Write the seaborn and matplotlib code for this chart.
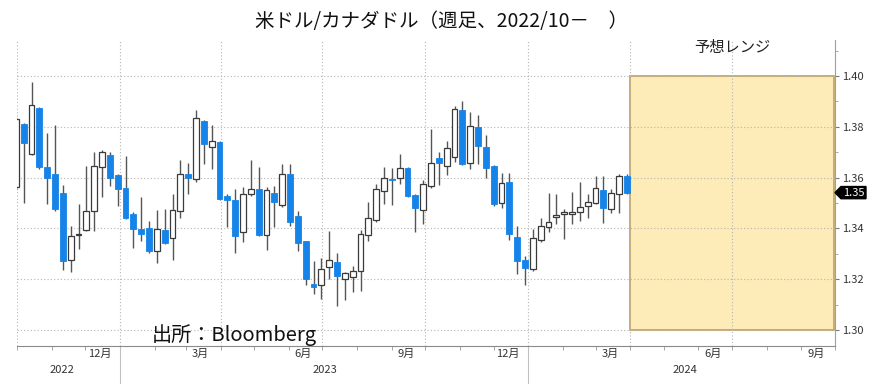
import numpy as np
import pandas as pd
import matplotlib
matplotlib.use("Agg")
import matplotlib.pyplot as plt
import matplotlib.dates as mdates
from matplotlib.ticker import FixedLocator, MultipleLocator
from matplotlib.patches import Rectangle, Polygon
from matplotlib.transforms import blended_transform_factory
import seaborn as sns

# ---------------- data ----------------
week_end = pd.date_range("2022-09-30", periods=79, freq="W-FRI")

opens = [1.3565, 1.3812, 1.3692, 1.3874, 1.3642, 1.3613, 1.3541, 1.3277, 1.3374, 1.3393, 1.3469, 1.3642, 1.3689, 1.3609,
         1.3561, 1.3456, 1.3397, 1.3400, 1.3312, 1.3393, 1.3361, 1.3469, 1.3613, 1.3593, 1.3822, 1.3722, 1.3741,
         1.3528, 1.3511, 1.3384, 1.3535, 1.3554, 1.3375, 1.3541, 1.3493, 1.3613, 1.3447, 1.3349, 1.3182, 1.3179,
         1.3250, 1.3267, 1.3201, 1.3210, 1.3234, 1.3375, 1.3434, 1.3548, 1.3596, 1.3600, 1.3639, 1.3531, 1.3472,
         1.3567, 1.3676, 1.3646, 1.3681, 1.3868, 1.3659, 1.3800, 1.3720, 1.3646, 1.3502, 1.3584, 1.3367, 1.3277,
         1.3240, 1.3354, 1.3404, 1.3446, 1.3458, 1.3457, 1.3463, 1.3489, 1.3502, 1.3552, 1.3476, 1.3535, 1.3607]
highs = [1.3838, 1.3815, 1.3976, 1.3880, 1.3776, 1.3809, 1.3571, 1.3408, 1.3495, 1.3646, 1.3702, 1.3707, 1.3702, 1.3615,
         1.3685, 1.3463, 1.3522, 1.3430, 1.3472, 1.3476, 1.3537, 1.3668, 1.3659, 1.3868, 1.3825, 1.3807, 1.3745,
         1.3537, 1.3554, 1.3563, 1.3668, 1.3642, 1.3563, 1.3567, 1.3655, 1.3652, 1.3467, 1.3352, 1.3271, 1.3284,
         1.3391, 1.3302, 1.3230, 1.3254, 1.3393, 1.3506, 1.3576, 1.3642, 1.3638, 1.3694, 1.3642, 1.3537, 1.3589,
         1.3790, 1.3702, 1.3744, 1.3881, 1.3903, 1.3859, 1.3846, 1.3767, 1.3650, 1.3620, 1.3620, 1.3410, 1.3293,
         1.3397, 1.3441, 1.3541, 1.3537, 1.3476, 1.3544, 1.3584, 1.3535, 1.3607, 1.3607, 1.3554, 1.3613, 1.3613]
lows = [1.3550, 1.3502, 1.3690, 1.3633, 1.3495, 1.3469, 1.3237, 1.3227, 1.3319, 1.3388, 1.3391, 1.3522, 1.3567, 1.3489,
        1.3437, 1.3323, 1.3352, 1.3302, 1.3263, 1.3339, 1.3277, 1.3443, 1.3535, 1.3584, 1.3652, 1.3633, 1.3510,
        1.3407, 1.3302, 1.3345, 1.3528, 1.3370, 1.3315, 1.3407, 1.3485, 1.3410, 1.3312, 1.3179, 1.3140, 1.3123,
        1.3201, 1.3093, 1.3119, 1.3149, 1.3153, 1.3352, 1.3427, 1.3498, 1.3493, 1.3576, 1.3524, 1.3384, 1.3417,
        1.3558, 1.3571, 1.3610, 1.3663, 1.3650, 1.3633, 1.3655, 1.3600, 1.3490, 1.3482, 1.3354, 1.3221, 1.3179,
        1.3231, 1.3345, 1.3384, 1.3417, 1.3358, 1.3417, 1.3430, 1.3443, 1.3495, 1.3420, 1.3459, 1.3459, 1.3537]
closes = [1.3830, 1.3737, 1.3888, 1.3642, 1.3597, 1.3476, 1.3273, 1.3371, 1.3380, 1.3469, 1.3646, 1.3702, 1.3600, 1.3554,
          1.3443, 1.3397, 1.3380, 1.3310, 1.3397, 1.3342, 1.3473, 1.3613, 1.3600, 1.3833, 1.3731, 1.3744, 1.3515,
          1.3511, 1.3371, 1.3537, 1.3554, 1.3375, 1.3550, 1.3505, 1.3616, 1.3424, 1.3341, 1.3199, 1.3171, 1.3241,
          1.3276, 1.3214, 1.3224, 1.3234, 1.3380, 1.3441, 1.3554, 1.3600, 1.3590, 1.3639, 1.3528, 1.3482, 1.3576,
          1.3659, 1.3659, 1.3715, 1.3872, 1.3655, 1.3803, 1.3724, 1.3637, 1.3495, 1.3580, 1.3380, 1.3273, 1.3244,
          1.3362, 1.3410, 1.3427, 1.3452, 1.3466, 1.3463, 1.3485, 1.3505, 1.3561, 1.3482, 1.3541, 1.3607, 1.3541]

y_ticks = [1.30, 1.32, 1.34, 1.36, 1.38, 1.40]
month_tick_dates = ["2022-12-14", "2023-03-14", "2023-06-14", "2023-09-14", "2023-12-14",
                    "2024-03-14", "2024-06-14", "2024-09-14"]
month_labels = ["12月", "3月", "6月", "9月", "12月", "3月", "6月", "9月"]
year_labels = ["2022", "2023", "2024"]
year_label_dates = ["2022-11-10", "2023-07-03", "2024-05-20"]
year_breaks = ["2023-01-01", "2024-01-01"]
quarter_grid = ["2022-10-01", "2023-01-01", "2023-04-01", "2023-07-01", "2023-10-01",
                "2024-01-01", "2024-04-01", "2024-07-01", "2024-10-01"]
range_low, range_high = 1.30, 1.40
range_start, range_end = "2024-04-01", "2024-09-30"
last_price = 1.3541
last_label = "1.35"
title = "米ドル/カナダドル（週足、2022/10－　）"
range_label = "予想レンジ"
source_label = "出所：Bloomberg"

# ---------------- style ----------------
sns.set_theme(style="white")
plt.rcParams["font.family"] = ["Noto Sans CJK JP", "DejaVu Sans"]

BLUE = "#1683E8"
df = pd.DataFrame({"date": week_end, "open": opens, "high": highs, "low": lows, "close": closes})
df["x"] = mdates.date2num(df["date"])
df["up"] = df["close"] >= df["open"]
df["bottom"] = df[["open", "close"]].min(axis=1)
df["height"] = (df["close"] - df["open"]).abs().clip(lower=0.00035)

fig = plt.figure(figsize=(8.83, 3.88), dpi=100)
ax = fig.add_axes([17 / 883, 42 / 388, 818 / 883, 306 / 388])

# grid
for y in y_ticks:
    ax.axhline(y, color="#b5b5b5", lw=0.8, ls=(0, (1, 2)), zorder=1)
for d in quarter_grid:
    ax.axvline(mdates.datestr2num(d), color="#b5b5b5", lw=0.8, ls=(0, (1, 2)), zorder=1)

# forecast range box
x0 = mdates.datestr2num(range_start)
x1 = mdates.datestr2num(range_end)
ax.add_patch(Rectangle((x0, range_low), x1 - x0, range_high - range_low,
                       facecolor="#FDEBB8", edgecolor="#C4A055", lw=1.2, zorder=0.5))
ax.text((x0 + x1) / 2, 1.4112, range_label, ha="center", va="center", fontsize=11, color="#222222")

# wicks
ax.vlines(df["x"], df["low"], df["high"], color="#555555", lw=1.0, zorder=2)
# bodies
up = df[df["up"]]
dn = df[~df["up"]]
ax.bar(up["x"], up["height"], bottom=up["bottom"], width=5.2, facecolor="white",
       edgecolor="#3a3a3a", linewidth=0.9, zorder=3)
ax.bar(dn["x"], dn["height"], bottom=dn["bottom"], width=5.2, facecolor=BLUE,
       edgecolor=BLUE, linewidth=0.6, zorder=3)

ax.set_xlim(mdates.datestr2num("2022-10-01"), mdates.datestr2num("2024-10-01"))
ax.set_ylim(1.2937, 1.4142)

# spines
for s in ["top", "left"]:
    ax.spines[s].set_visible(False)
ax.spines["right"].set_color("#a0a0a0")
ax.spines["right"].set_linewidth(0.8)
ax.spines["bottom"].set_color("#8a8a8a")
ax.spines["bottom"].set_linewidth(0.8)

# y axis right
ax.yaxis.tick_right()
ax.set_yticks(y_ticks)
ax.set_yticklabels([f"{v:.2f}" for v in y_ticks])
ax.yaxis.set_minor_locator(MultipleLocator(0.01))
ax.tick_params(axis="y", which="major", direction="out", length=3, width=0.8, color="#777777",
               labelsize=8, pad=2, labelcolor="#333333", right=True, left=False)
ax.tick_params(axis="y", which="minor", direction="out", length=2, width=0.6, color="#999999",
               right=True, left=False)

# x axis
ax.xaxis.set_minor_locator(mdates.MonthLocator())
ax.xaxis.set_major_locator(FixedLocator([mdates.datestr2num(d) for d in month_tick_dates]))
ax.set_xticklabels(month_labels)
ax.tick_params(axis="x", which="major", length=0, labelsize=8, pad=2, labelcolor="#333333", bottom=True)
ax.tick_params(axis="x", which="minor", direction="out", length=3, width=0.6, color="#999999", bottom=True)

btrans = blended_transform_factory(ax.transData, ax.transAxes)
for d in year_breaks:
    xd = mdates.datestr2num(d)
    ax.plot([xd, xd], [0, -0.12], transform=btrans, clip_on=False, color="#c0c0c0", lw=0.8)
for lab, d in zip(year_labels, year_label_dates):
    ax.text(mdates.datestr2num(d), -0.078, lab, transform=btrans, ha="center", va="center",
            fontsize=8, color="#333333")

# last price tag
ttrans = blended_transform_factory(ax.transAxes, ax.transData)
h = 0.0024
a, b = 6 / 818, 31 / 818
tag = Polygon([(1.0, last_price), (1 + a, last_price + h), (1 + b, last_price + h),
               (1 + b, last_price - h), (1 + a, last_price - h)], closed=True,
              transform=ttrans, clip_on=False, facecolor="black", edgecolor="black", zorder=5)
ax.add_patch(tag)
ax.text(1 + (a + b) / 2, last_price, last_label, transform=ttrans, ha="center", va="center",
        fontsize=8, color="white", zorder=6, clip_on=False)

# source
stxt = ax.text(135 / 818, 1.2957, source_label, transform=ttrans, ha="left", va="baseline",
               fontsize=14.5, color="#111111", zorder=4)
stxt.set_clip_on(True)

# title
fig.text(0.5, 0.945, title, ha="center", va="center", fontsize=14, color="#111111")

fig.savefig("out.png", dpi=100, facecolor="white")
